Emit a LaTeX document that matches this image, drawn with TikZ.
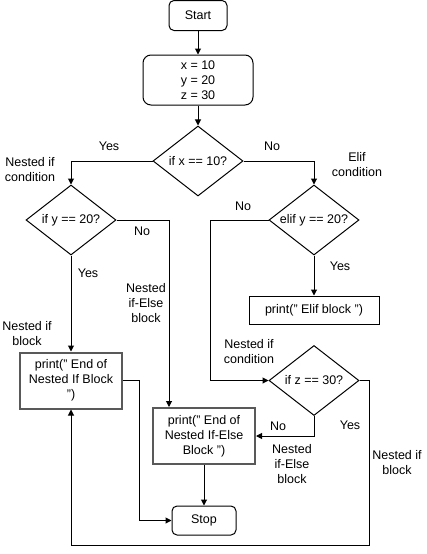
\documentclass[tikz,border=0pt]{standalone}
\usepackage{fontspec}
\setmainfont{Liberation Sans}
\usetikzlibrary{shapes.geometric}
\usetikzlibrary{arrows.meta}

\begin{document}
\begin{tikzpicture}[x=1pt,y=-1pt,line width=1pt,font=\fontsize{12.5}{15}\selectfont,
    term/.style={draw,rounded corners=5pt,minimum width=58pt,minimum height=30pt},
    vars/.style={draw,rounded corners=8pt,minimum width=110pt,minimum height=50pt,align=center},
    dec/.style={draw,shape=diamond,aspect=1.3,inner sep=0pt,minimum width=90pt,minimum height=70pt},
    prnt/.style={draw=black!65,line width=2pt,minimum width=102pt,minimum height=56pt,align=center},
    lbl/.style={align=center},
    flow/.style={-{Triangle[length=6pt,width=6pt]}}]
    \useasboundingbox (0,0) rectangle (426,554);
    \node[term] (start) at (198,15.5) {Start};
    \node[vars] (xyz) at (198,80) {x = 10\\y = 20\\z = 30};
    \node[dec] (ifx) at (198,161) {if x == 10?};
    \node[dec] (ify) at (71,220) {if y == 20?};
    \node[dec] (elif) at (314,220) {elif y == 20?};
    \node[dec] (ifz) at (314,380.5) {if z == 30?};
    \node[draw,minimum width=130pt,minimum height=28pt] (pelif) at (314,310) {print(" Elif block ")};
    \node[prnt] (pif) at (71,380.5) {print(" End of\\Nested If Block\\")};
    \node[prnt] (pelse) at (204,436) {print(" End of\\Nested If-Else\\Block ")};
    \node[term,minimum width=64pt,minimum height=29pt] (stop) at (204,520.5) {Stop};
    \coordinate (c1) at (71,161);
    \coordinate (c2) at (314,161);
    \coordinate (c3) at (169,220);
    \coordinate (c4) at (210,220);
    \coordinate (c5) at (139,380.5);
    \coordinate (c6) at (314,436);
    \coordinate (c7) at (369,380.5);
    \coordinate (c8) at (369,545);
    \coordinate (c9) at (71,545);
    \draw[flow] (start) -- (xyz);
    \draw[flow] (xyz) -- (ifx);
    \draw[flow] (ifx.west) -- (c1) -- (ify.north);
    \draw[flow] (ifx.east) -- (c2) -- (elif.north);
    \draw[flow] (ify.east) -- (c3) -- (c3 |- pelse.north);
    \draw[flow] (ify.south) -- (pif.north);
    \draw[flow] (elif.west) -- (c4) -- (c4 |- ifz.west) -- (ifz.west);
    \draw[flow] (elif.south) -- (pelif.north);
    \draw[flow] (pif.east) -- (c5) -- (c5 |- stop.west) -- (stop.west);
    \draw[flow] (pelse.south) -- (stop.north);
    \draw[flow] (ifz.south) -- (c6) -- (pelse.east);
    \draw[flow] (ifz.east) -- (c7) -- (c8) -- (c9) -- (pif.south);
    \node[lbl] (l1) at (109,146) {Yes};
    \node[lbl] (l2) at (272,146) {No};
    \node[lbl] (l3) at (30,170) {Nested if\\condition};
    \node[lbl] (l4) at (357,165) {Elif\\condition};
    \node[lbl] (l5) at (142,231) {No};
    \node[lbl] (l6) at (243,206) {No};
    \node[lbl] (l7) at (88,273) {Yes};
    \node[lbl] (l8) at (340,266) {Yes};
    \node[lbl] (l9) at (146,303.5) {Nested\\if-Else\\block};
    \node[lbl] (l10) at (27,334) {Nested if\\block};
    \node[lbl] (l11) at (249,352) {Nested if\\condition};
    \node[lbl] (l12) at (278,426) {No};
    \node[lbl] (l13) at (350,425) {Yes};
    \node[lbl] (l14) at (292,464.5) {Nested\\if-Else\\block};
    \node[lbl] (l15) at (397,463) {Nested if\\block};
\end{tikzpicture}
\end{document}
